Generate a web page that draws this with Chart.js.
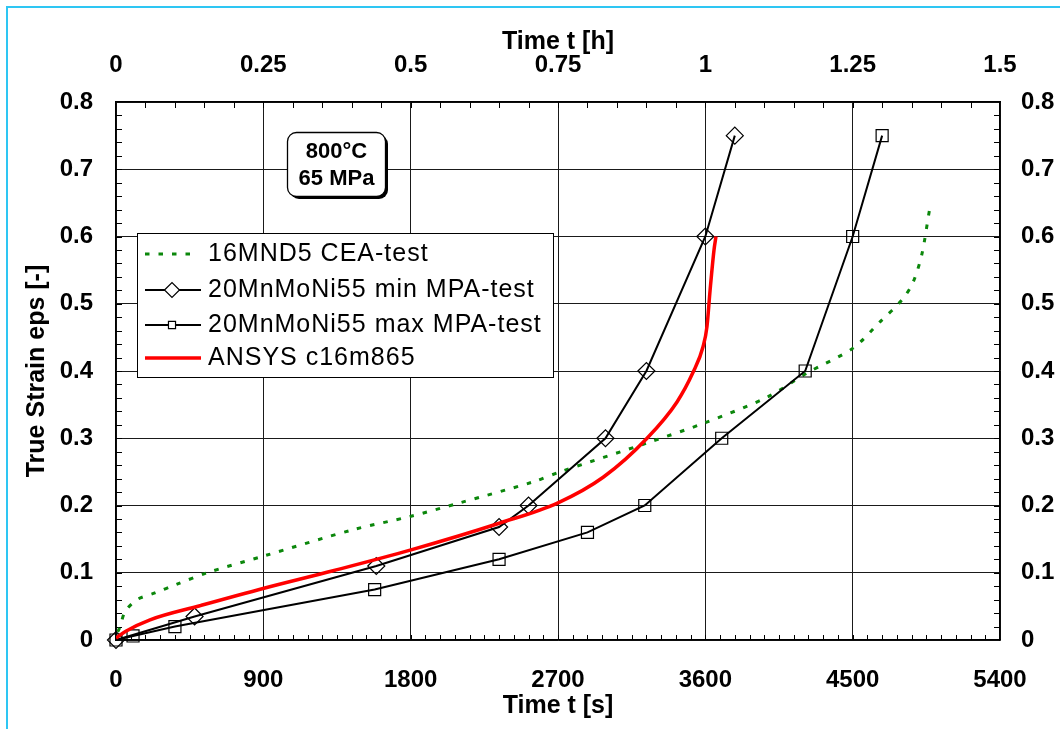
<!DOCTYPE html>
<html>
<head>
<meta charset="utf-8">
<script src="https://cdn.jsdelivr.net/npm/chart.js@4.4.1/dist/chart.umd.min.js"></script>
<style>
  html, body { margin: 0; padding: 0; background: #fff; }
  #wrap { position: relative; width: 1060px; height: 729px; overflow: hidden; }
  #frame { position: absolute; left: 6px; top: 6px; right: -10px; bottom: -10px;
           border-left: 2px solid #2ec6f3; border-top: 2px solid #2ec6f3; pointer-events: none; }
</style>
</head>
<body>
<div id="wrap">
  <canvas id="chart" width="1060" height="729"></canvas>
  <div id="frame"></div>
</div>
<script>
// values (time in s, true strain)
const ceaTime   = [10, 24, 55, 128, 238, 373, 556, 904, 1448, 1802, 2101, 2547, 2712, 3244, 3598, 3977, 4221, 4502, 4667, 4802, 4869, 4924, 4973, 4985];
const ceaStrain = [0.012, 0.019, 0.042, 0.06, 0.07, 0.083, 0.1, 0.125, 0.164, 0.184, 0.204, 0.235, 0.25, 0.293, 0.323, 0.361, 0.397, 0.434, 0.473, 0.506, 0.532, 0.575, 0.644, 0.65];

const minTime   = [0, 480, 1590, 2340, 2520, 2990, 3240, 3600, 3780];
const minStrain = [0, 0.035, 0.11, 0.168, 0.2, 0.3, 0.4, 0.6, 0.75];

const maxTime   = [0, 104, 360, 1580, 2340, 2880, 3230, 3700, 4210, 4500, 4680];
const maxStrain = [0, 0.006, 0.02, 0.075, 0.12, 0.16, 0.2, 0.3, 0.4, 0.6, 0.75];

const ansysTime   = [0, 60, 208, 513, 904, 1326, 1802, 2346, 2700, 2976, 3244, 3427, 3525, 3586, 3610, 3629, 3653, 3665];
const ansysStrain = [0.003, 0.013, 0.03, 0.051, 0.077, 0.103, 0.134, 0.174, 0.204, 0.242, 0.3, 0.354, 0.398, 0.436, 0.466, 0.52, 0.58, 0.6];

const seriesLabels = ['16MND5 CEA-test', '20MnMoNi55 min MPA-test', '20MnMoNi55 max MPA-test', 'ANSYS c16m865'];
const boxLines = ['800°C', '65 MPa'];

const pts = (xs, ys) => xs.map((x, i) => ({ x: x, y: ys[i] }));

const FONT = "'Liberation Sans', Arial, sans-serif";
Chart.defaults.font.family = FONT;
Chart.defaults.color = '#000';

const tickFont = { size: 24, weight: 'bold' };
const titleFont = { size: 25, weight: 'bold', lineHeight: 1.2 };

// minor ticks, legend and the condition box
const extras = {
  id: 'extras',
  beforeDatasetsDraw(chart) {
    const { ctx, chartArea: a, scales } = chart;
    ctx.save();
    ctx.strokeStyle = '#000';
    ctx.lineWidth = 1;
    ctx.beginPath();
    for (let i = 1; i < 60; i++) {
      const px = Math.round(scales.x.getPixelForValue(i * 90)) + 0.5;
      ctx.moveTo(px, a.bottom); ctx.lineTo(px, a.bottom - 5);
    }
    for (let i = 1; i < 30; i++) {
      const px = Math.round(scales.x2.getPixelForValue(i * 0.05)) + 0.5;
      ctx.moveTo(px, a.top); ctx.lineTo(px, a.top + 6);
    }
    for (let i = 1; i < 40; i++) {
      const py = Math.round(scales.y.getPixelForValue(i * 0.02)) + 0.5;
      ctx.moveTo(a.left, py); ctx.lineTo(a.left + 6, py);
      ctx.moveTo(a.right, py); ctx.lineTo(a.right - 6, py);
    }
    ctx.stroke();
    ctx.restore();
  },
  afterDraw(chart) {
    const ctx = chart.ctx;
    ctx.save();

    // legend
    const lx = 137.5, ly = 233.5, lw = 416, lh = 144;
    ctx.fillStyle = '#fff';
    ctx.fillRect(lx, ly, lw, lh);
    ctx.strokeStyle = '#000';
    ctx.lineWidth = 1;
    ctx.strokeRect(lx, ly, lw, lh);
    const rows = [254, 290, 325, 358];
    chart.data.datasets.forEach((ds, i) => {
      const y = rows[i];
      ctx.beginPath();
      ctx.setLineDash(ds.borderDash || []);
      ctx.strokeStyle = ds.borderColor;
      ctx.lineWidth = ds.borderWidth;
      ctx.moveTo(145, y);
      ctx.lineTo(ds.borderDash ? 194 : 201, y);
      ctx.stroke();
      ctx.setLineDash([]);
      if (ds.pointRadius > 0) {
        ctx.fillStyle = '#fff';
        ctx.strokeStyle = '#000';
        ctx.lineWidth = 1.2;
        Chart.helpers.drawPoint(ctx, {
          pointStyle: ds.pointStyle,
          radius: ds.pointStyle === 'rect' ? 5 : 7.5,
          rotation: 0,
          borderWidth: 1.2
        }, 172, y);
      }
      ctx.fillStyle = '#000';
      ctx.font = '25px ' + FONT;
      ctx.letterSpacing = '1px';
      ctx.textAlign = 'left';
      ctx.textBaseline = 'middle';
      ctx.fillText(ds.label, 208, y);
    });
    ctx.letterSpacing = '0px';

    // 800°C / 65 MPa box
    const bx = 287.5, by = 132.5, bw = 98, bh = 64;
    ctx.fillStyle = '#000';
    ctx.beginPath();
    ctx.roundRect(bx + 2.5, by + 2.5, bw, bh, 9);
    ctx.fill();
    ctx.fillStyle = '#fff';
    ctx.strokeStyle = '#000';
    ctx.beginPath();
    ctx.roundRect(bx, by, bw, bh, 9);
    ctx.fill();
    ctx.lineWidth = 1.3;
    ctx.stroke();
    ctx.fillStyle = '#000';
    ctx.font = 'bold 22px ' + FONT;
    ctx.textAlign = 'center';
    ctx.textBaseline = 'middle';
    ctx.fillText(boxLines[0], bx + bw / 2, 152);
    ctx.fillText(boxLines[1], bx + bw / 2, 179);
    ctx.restore();
  }
};

new Chart(document.getElementById('chart'), {
  type: 'line',
  data: {
    datasets: [
      {
        label: seriesLabels[0],
        data: pts(ceaTime, ceaStrain),
        borderColor: '#0b870b',
        borderWidth: 3,
        borderDash: [4.5, 9],
        pointRadius: 0,
        tension: 0.3,
        order: 3
      },
      {
        label: seriesLabels[1],
        data: pts(minTime, minStrain),
        borderColor: '#000',
        borderWidth: 2,
        pointStyle: 'rectRot',
        pointRadius: 8.5,
        pointBorderWidth: 1.2,
        pointBorderColor: '#000',
        pointBackgroundColor: 'rgba(255,255,255,0)',
        tension: 0,
        clip: false,
        order: 1
      },
      {
        label: seriesLabels[2],
        data: pts(maxTime, maxStrain),
        borderColor: '#000',
        borderWidth: 2,
        pointStyle: 'rect',
        pointRadius: 8.5,
        pointBorderWidth: 1.2,
        pointBorderColor: '#000',
        pointBackgroundColor: 'rgba(255,255,255,0)',
        tension: 0,
        clip: false,
        order: 2
      },
      {
        label: seriesLabels[3],
        data: pts(ansysTime, ansysStrain),
        borderColor: '#ff0000',
        borderWidth: 3.5,
        pointRadius: 0,
        cubicInterpolationMode: 'monotone',
        order: 0
      }
    ]
  },
  options: {
    responsive: false,
    animation: false,
    devicePixelRatio: 1,
    layout: { padding: 0 },
    plugins: { legend: { display: false }, tooltip: { enabled: false } },
    scales: {
      x: {
        type: 'linear', position: 'bottom', min: 0, max: 5400,
        ticks: { stepSize: 900, padding: 26, font: tickFont, color: '#000', maxRotation: 0, autoSkip: false,
                 callback: v => String(v) },
        grid: { color: '#1a1a1a', lineWidth: 1, drawTicks: false },
        border: { color: '#000', width: 1.5 },
        title: { display: true, text: 'Time t [s]', color: '#000', font: titleFont, padding: { top: 0, bottom: 8 } },
        afterFit: s => { s.height = 89; }
      },
      x2: {
        type: 'linear', position: 'top', min: 0, max: 1.5,
        ticks: { stepSize: 0.25, padding: 22, font: tickFont, color: '#000', maxRotation: 0, autoSkip: false,
                 callback: v => String(v) },
        grid: { display: false, drawTicks: false },
        border: { color: '#000', width: 1.5 },
        title: { display: true, text: 'Time t [h]', color: '#000', font: titleFont, padding: { top: 27, bottom: 0 } },
        afterFit: s => { s.height = 102; }
      },
      y: {
        type: 'linear', position: 'left', min: 0, max: 0.8,
        ticks: { stepSize: 0.1, padding: 23, font: tickFont, color: '#000',
                 callback: v => String(Math.round(v * 10) / 10) },
        grid: { color: '#1a1a1a', lineWidth: 1, drawTicks: false },
        border: { color: '#000', width: 1.5 },
        title: { display: true, text: 'True Strain eps [-]', color: '#000', font: titleFont, padding: { top: 22, bottom: 0 } },
        afterFit: s => { s.width = 116; }
      },
      y2: {
        type: 'linear', position: 'right', min: 0, max: 0.8,
        ticks: { stepSize: 0.1, padding: 21, font: tickFont, color: '#000',
                 callback: v => String(Math.round(v * 10) / 10) },
        grid: { display: false, drawTicks: false },
        border: { color: '#000', width: 1.5 },
        afterFit: s => { s.width = 60; }
      }
    }
  },
  plugins: [extras]
});
</script>
</body>
</html>
